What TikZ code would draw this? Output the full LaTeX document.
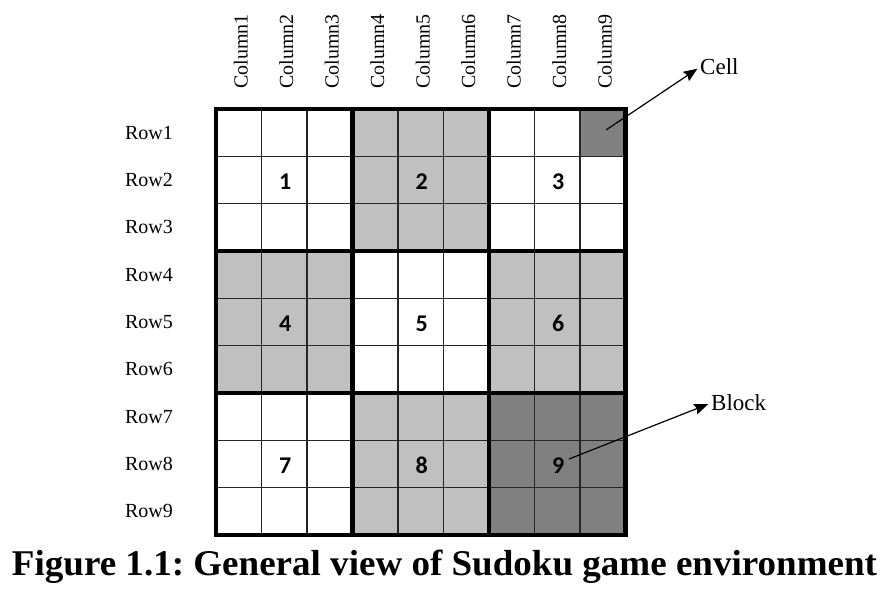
\documentclass[tikz,border=0pt]{standalone}
\usepackage{fontspec}
\setmainfont{Liberation Serif}
\newfontfamily\numfont{Carlito}
\usetikzlibrary{arrows.meta}
\definecolor{lightcell}{HTML}{C0C0C0}
\definecolor{darkcell}{HTML}{808080}
\frenchspacing
\tikzset{
  thinline/.style={line width=1.5pt, draw=black!85},
  thickline/.style={line width=4.6pt, draw=black},
  rowlbl/.style={inner sep=0pt, font=\fontsize{20}{22}\selectfont},
  collbl/.style={inner sep=0pt, rotate=90, font=\fontsize{20}{22}\selectfont},
  numlbl/.style={inner sep=0pt, font=\numfont\bfseries\fontsize{24}{26}\selectfont},
  sidelbl/.style={inner sep=0pt, anchor=west, font=\fontsize{23}{25}\selectfont},
  pointer/.style={line width=1.2pt, -{Stealth[length=14pt,width=11pt,inset=2pt]}, shorten >=3pt}
}
\begin{document}
\begin{tikzpicture}[x=1pt,y=-1pt]
\useasboundingbox (0,0) rectangle (892,589);
\fill[white] (0,0) rectangle (892,589);
\def\L{216}
\def\T{109}
\def\cw{45.5}
\def\ch{47.333}
% shading
\foreach \br/\bc in {0/1,1/0,1/2,2/1}
  \fill[lightcell] ({\L+3*\bc*\cw},{\T+3*\br*\ch}) rectangle ++({3*\cw},{3*\ch});
\fill[darkcell] ({\L+6*\cw},{\T+6*\ch}) rectangle ++({3*\cw},{3*\ch});
\fill[darkcell] ({\L+8*\cw},{\T}) rectangle ++({\cw},{\ch});
% thin lines
\foreach \i in {1,2,4,5,7,8} {
  \draw[thinline] ({\L+\i*\cw},{\T}) -- ({\L+\i*\cw},{\T+9*\ch});
  \draw[thinline] ({\L},{\T+\i*\ch}) -- ({\L+9*\cw},{\T+\i*\ch});
}
% thick lines
\foreach \i in {3,6} {
  \draw[thickline] ({\L+\i*\cw},{\T}) -- ({\L+\i*\cw},{\T+9*\ch});
  \draw[thickline] ({\L},{\T+\i*\ch}) -- ({\L+9*\cw},{\T+\i*\ch});
}
\draw[thickline] ({\L},{\T}) rectangle ({\L+9*\cw},{\T+9*\ch});
% row and column labels
\foreach \i in {1,...,9} {
  \node[rowlbl] (row\i) at (149,{\T+(\i-0.5)*\ch}) {Row\i};
  \node[collbl] (col\i) at ({\L+(\i-0.5)*\cw+2},51.5) {Column\i};
}
% block numbers
\foreach \k in {1,...,9} {
  \pgfmathtruncatemacro{\br}{int((\k-1)/3)}
  \pgfmathtruncatemacro{\bc}{mod(\k-1,3)}
  \node[numlbl] (n\k) at ({\L+(3*\bc+1.5)*\cw+1},{\T+(3*\br+1.5)*\ch+1.5}) {\k};
}
% side labels and pointers
\node[sidelbl] (celllbl) at (700,67) {Cell};
\node[sidelbl] (blocklbl) at (711,403) {Block};
\coordinate (cellstart) at (606,130);
\coordinate (blockstart) at (569,459);
\draw[pointer] (cellstart) -- (celllbl.west);
\draw[pointer] (blockstart) -- (blocklbl.west);
% caption
\node[anchor=base, inner sep=0pt] (caption) at (444.5,575)
  {\resizebox{865pt}{25.5pt}{\bfseries Figure 1.1: General view of Sudoku game environment}};
\end{tikzpicture}
\end{document}
